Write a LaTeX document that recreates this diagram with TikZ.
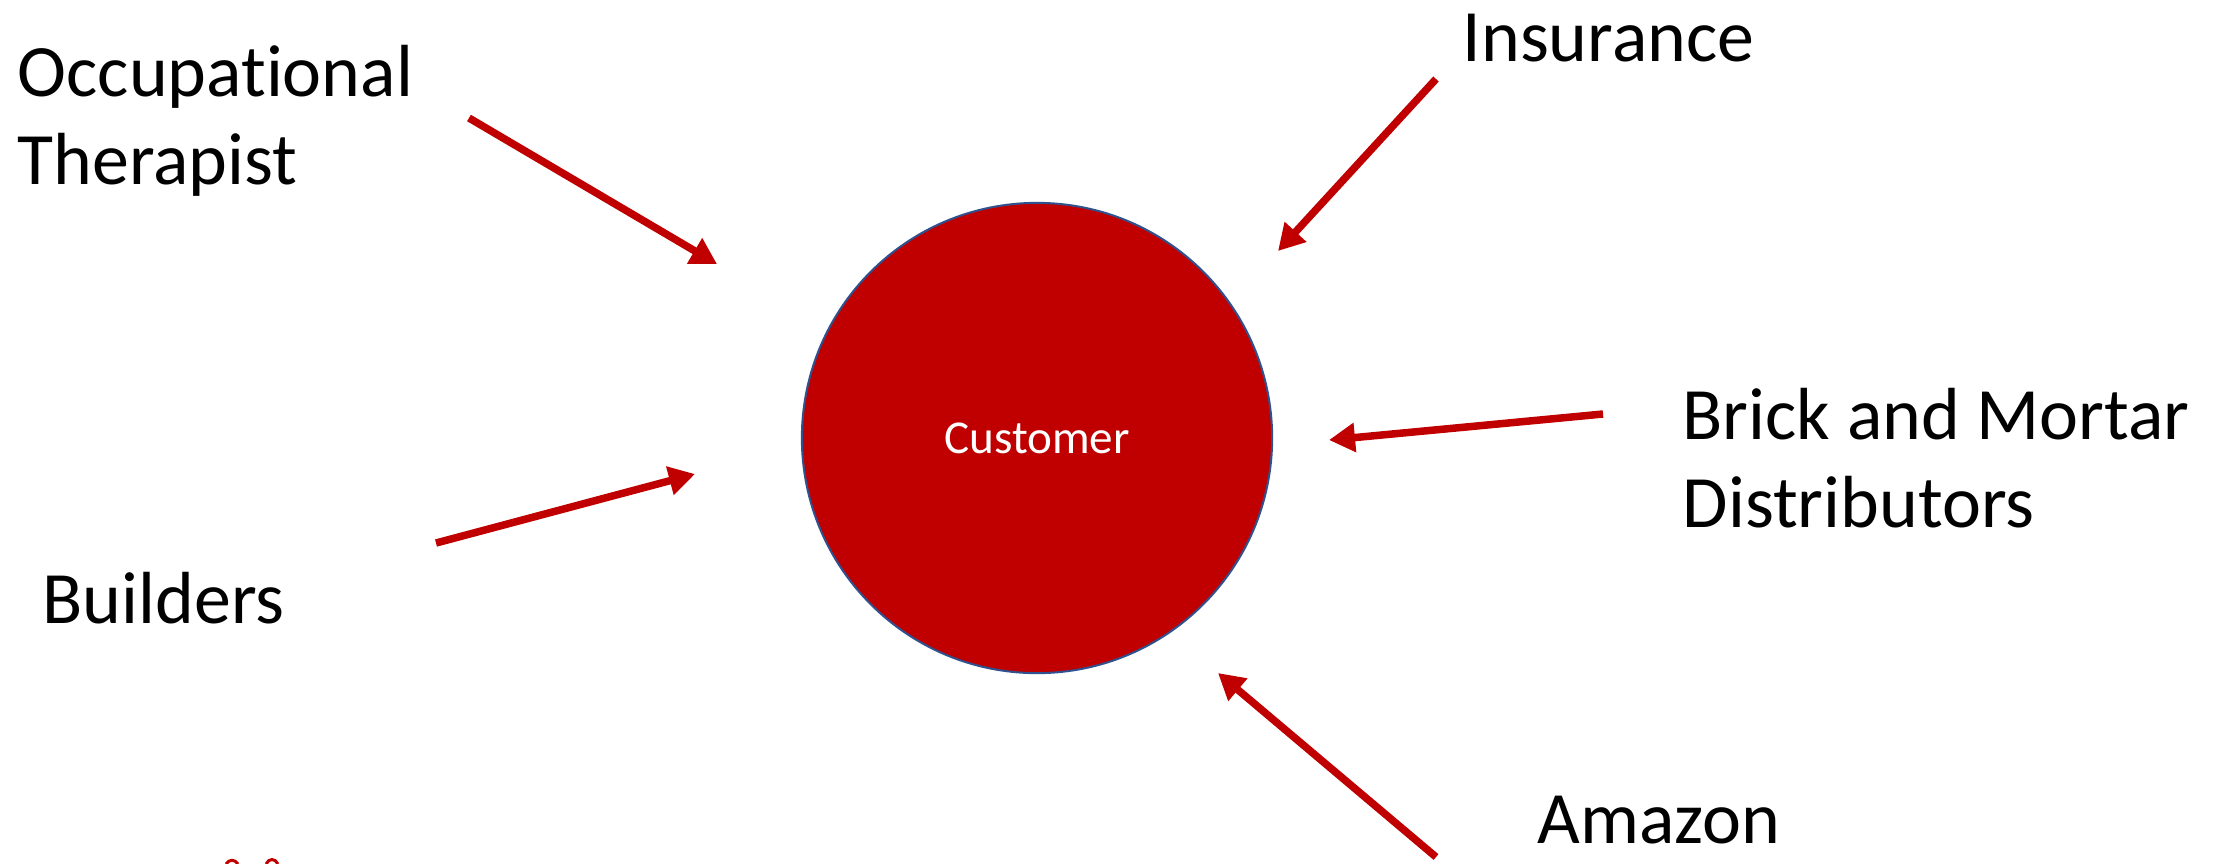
\documentclass[tikz,border=0pt]{standalone}
\usepackage{fontspec}
\setmainfont{Carlito}[Ligatures=NoCommon]
\usetikzlibrary{arrows.meta}
\definecolor{deepred}{RGB}{192,0,0}
\definecolor{rimblue}{RGB}{47,82,143}
\tikzset{
  feed/.style={draw=deepred, line width=0.075cm,
    -{Triangle[length=0.26cm,width=0.28cm]}},
  label/.style={anchor=base west, inner sep=0pt, align=left,
    font=\fontsize{21}{25}\selectfont},
  hub/.style={circle, fill=deepred, draw=rimblue, line width=0.02cm,
    minimum size=4.7cm, inner sep=0pt, text=white,
    font=\fontsize{13.4}{16}\selectfont}
}
\begin{document}
\begin{tikzpicture}[x=0.01cm, y=-0.01cm]
  \useasboundingbox (0,0) rectangle (2222,863);

  % central customer circle
  \node[hub] (cust) at (1037,438) {Customer};

  % surrounding parties (anchored at the baseline of the last line)
  \node[label] (ot)    at (17,184)   {Occupational\\Therapist};
  \node[label] (ins)   at (1462,61)  {Insurance};
  \node[label] (brick) at (1682,527) {Brick and Mortar\\Distributors};
  \node[label] (build) at (42,623)   {Builders};
  \node[label] (amz)   at (1537,843) {Amazon};

  % arrow end points
  \coordinate (otS)  at (469,118);  \coordinate (otT)  at (717,264);
  \coordinate (insS) at (1436,79);  \coordinate (insT) at (1278,251);
  \coordinate (brS)  at (1603,414); \coordinate (brT)  at (1329,440);
  \coordinate (amS)  at (1436,857); \coordinate (amT)  at (1218,673);
  \coordinate (buS)  at (436,543);  \coordinate (buT)  at (695,474);

  \draw[feed] (otS) -- (otT);
  \draw[feed] (insS) -- (insT);
  \draw[feed] (brS) -- (brT);
  \draw[feed] (amS) -- (amT);
  \draw[feed] (buS) -- (buT);

  % partly visible red marks at the lower edge
  \draw[deepred, line width=0.03cm] (226,864) .. controls (229,859) and (235,859) .. (238,864);
  \draw[deepred, line width=0.03cm] (266,864) .. controls (269,858) and (275,858) .. (278,864);
\end{tikzpicture}
\end{document}
